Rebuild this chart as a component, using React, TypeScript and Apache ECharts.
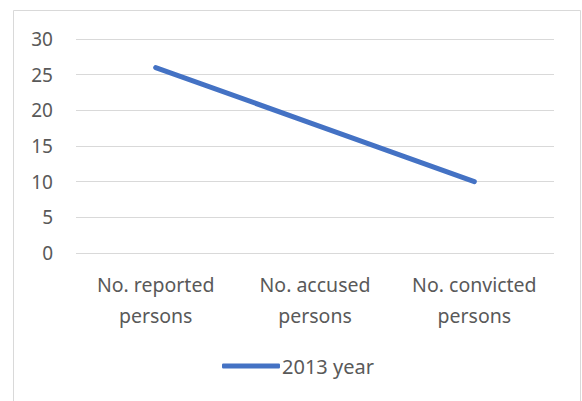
import React, { useEffect, useRef } from "react";
import * as echarts from "echarts";

const categories = ["No. reported\npersons", "No. accused\npersons", "No. convicted\npersons"];
const values2013 = [26, 18, 10];
const seriesName = "2013 year";
const yTicks = { min: 0, max: 30, interval: 5 };

export default function App() {
  const ref = useRef<HTMLDivElement>(null);
  useEffect(() => {
    if (!ref.current) return;
    const chart = echarts.init(ref.current, undefined, { renderer: "svg" });
    const font = "'Noto Sans', 'Open Sans', sans-serif";
    chart.setOption({
      animation: false,
      backgroundColor: "#ffffff",
      graphic: [
        {
          type: "rect",
          shape: { x: 13.5, y: 10.5, width: 567, height: 400 },
          style: { fill: "none", stroke: "#d9d9d9", lineWidth: 1 },
          silent: true,
        },
      ],
      grid: { left: 76, right: 28, top: 39, bottom: 148, containLabel: false },
      xAxis: {
        type: "category",
        data: categories,
        boundaryGap: true,
        axisLine: { show: false },
        axisTick: { show: false },
        axisLabel: {
          color: "#595959",
          fontSize: 19.5,
          fontFamily: font,
          lineHeight: 31,
          margin: 16,
          interval: 0,
        },
      },
      yAxis: {
        type: "value",
        min: yTicks.min,
        max: yTicks.max,
        interval: yTicks.interval,
        axisLine: { show: false },
        axisTick: { show: false },
        splitLine: { lineStyle: { color: "#d9d9d9", width: 1 } },
        axisLabel: { color: "#595959", fontSize: 19, fontFamily: font, margin: 23 },
      },
      legend: {
        bottom: 20,
        left: 217,
        itemWidth: 58,
        itemHeight: 5,
        itemGap: 4,
        textStyle: { color: "#595959", fontSize: 20, fontFamily: font, padding: [0, 0, 0, -3] },
        data: [{ name: seriesName, icon: "roundRect" }],
      },
      series: [
        {
          name: seriesName,
          type: "line",
          data: values2013,
          symbol: "none",
          lineStyle: { color: "#4472C4", width: 5, cap: "round" },
          itemStyle: { color: "#4472C4" },
        },
      ],
    });
    return () => chart.dispose();
  }, []);
  return (
    <div
      ref={ref}
      style={{ position: "fixed", left: 0, top: 0, width: 582, height: 401 }}
    />
  );
}
